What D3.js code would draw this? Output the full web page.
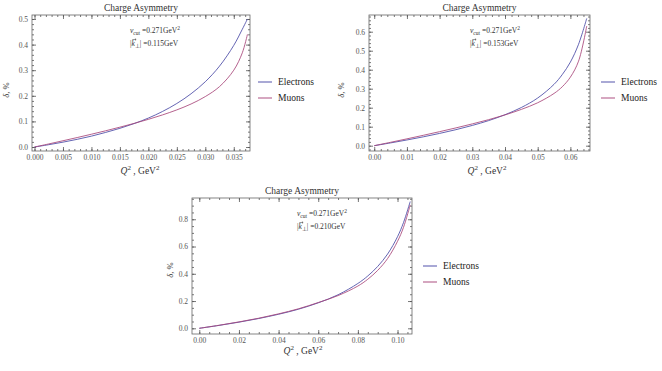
<!DOCTYPE html>
<html><head><meta charset="utf-8">
<script src="https://cdn.jsdelivr.net/npm/d3@7"></script>
<style>
body{margin:0;background:#fff}
svg{display:block}
text{font-family:"Liberation Serif","Times New Roman",serif}
</style>
</head><body>
<svg id="c" width="662" height="371"></svg>
<script>
// ---------- data ----------
const seriesNames = ["Electrons", "Muons"];
const nuCut = "0.271";

// panel 1 : |k_perp| = 0.115 GeV
const q1 = [0, 0.0025, 0.005, 0.0075, 0.01, 0.0125, 0.015, 0.0175, 0.02, 0.0225, 0.025, 0.0275, 0.03, 0.0325, 0.035, 0.0365, 0.0374];
const electrons1 = [0, 0.009, 0.019, 0.030, 0.0425, 0.057, 0.073, 0.0915, 0.113, 0.139, 0.170, 0.208, 0.255, 0.316, 0.397, 0.460, 0.500];
const muons1 = [0, 0.012, 0.0244, 0.037, 0.050, 0.0634, 0.0775, 0.0923, 0.108, 0.1255, 0.145, 0.168, 0.197, 0.236, 0.300, 0.368, 0.440];
const xTicks1 = [0, 0.005, 0.010, 0.015, 0.020, 0.025, 0.030, 0.035];
const xLabels1 = ["0.000", "0.005", "0.010", "0.015", "0.020", "0.025", "0.030", "0.035"];
const yTicks1 = [0, 0.1, 0.2, 0.3, 0.4, 0.5];
const yLabels1 = ["0.0", "0.1", "0.2", "0.3", "0.4", "0.5"];
const kPerp1 = "0.115";

// panel 2 : |k_perp| = 0.153 GeV
const q2 = [0, 0.005, 0.01, 0.015, 0.02, 0.025, 0.03, 0.035, 0.04, 0.045, 0.05, 0.055, 0.0575, 0.06, 0.0625, 0.065];
const electrons2 = [0, 0.0146, 0.030, 0.0466, 0.0646, 0.0843, 0.1066, 0.132, 0.163, 0.201, 0.251, 0.323, 0.374, 0.440, 0.534, 0.670];
const muons2 = [0, 0.0178, 0.036, 0.0546, 0.0738, 0.0937, 0.1147, 0.137, 0.162, 0.191, 0.226, 0.275, 0.310, 0.361, 0.445, 0.630];
const xTicks2 = [0, 0.01, 0.02, 0.03, 0.04, 0.05, 0.06];
const xLabels2 = ["0.00", "0.01", "0.02", "0.03", "0.04", "0.05", "0.06"];
const yTicks2 = [0, 0.1, 0.2, 0.3, 0.4, 0.5, 0.6];
const yLabels2 = ["0.0", "0.1", "0.2", "0.3", "0.4", "0.5", "0.6"];
const kPerp2 = "0.153";

// panel 3 : |k_perp| = 0.210 GeV
const q3 = [0, 0.01, 0.02, 0.03, 0.04, 0.05, 0.06, 0.07, 0.08, 0.085, 0.09, 0.095, 0.1, 0.103, 0.1064];
const electrons3 = [0, 0.0213, 0.045, 0.0719, 0.103, 0.140, 0.187, 0.246, 0.329, 0.384, 0.454, 0.545, 0.672, 0.775, 0.930];
const muons3 = [0, 0.0225, 0.047, 0.074, 0.106, 0.143, 0.189, 0.240, 0.310, 0.360, 0.425, 0.512, 0.638, 0.740, 0.905];
const xTicks3 = [0, 0.02, 0.04, 0.06, 0.08, 0.10];
const xLabels3 = ["0.00", "0.02", "0.04", "0.06", "0.08", "0.10"];
const yTicks3 = [0, 0.2, 0.4, 0.6, 0.8];
const yLabels3 = ["0.0", "0.2", "0.4", "0.6", "0.8"];
const kPerp3 = "0.210";

// ---------- layout ----------
const colors = ["#4a4aa6", "#a8467a"];
const panels = [
  {q:q1, s:[electrons1, muons1], xt:xTicks1, xl:xLabels1, yt:yTicks1, yl:yLabels1, k:kPerp1,
   xMinor:0.001, yMinor:0.02, fr:[32,15,250,151], xd:[-0.00044,0.03785], yd:[-0.0156,0.5156],
   ann:[130,33], leg:[258,82], ylab:[9,90], xlab:[140,174]},
  {q:q2, s:[electrons2, muons2], xt:xTicks2, xl:xLabels2, yt:yTicks2, yl:yLabels2, k:kPerp2,
   xMinor:0.002, yMinor:0.02, fr:[369,15,590,151], xd:[-0.0016,0.066], yd:[-0.028,0.688],
   ann:[470,33], leg:[601,82], ylab:[344,90], xlab:[487,174]},
  {q:q3, s:[electrons3, muons3], xt:xTicks3, xl:xLabels3, yt:yTicks3, yl:yLabels3, k:kPerp3,
   xMinor:0.005, yMinor:0.05, fr:[192,198,412,334], xd:[-0.00368,0.1073], yd:[-0.0418,0.956],
   ann:[297,216], leg:[423,266], ylab:[173,270], xlab:[303,354]}
];

const svg = d3.select("#c");

panels.forEach(p => {
  const [x0,y0,x1,y1] = p.fr;
  const x = d3.scaleLinear().domain(p.xd).range([x0,x1]);
  const y = d3.scaleLinear().domain(p.yd).range([y1,y0]);
  const g = svg.append("g");

  const xm = d3.range(Math.ceil(p.xd[0]/p.xMinor)*p.xMinor, p.xd[1], p.xMinor);
  const ym = d3.range(Math.ceil(p.yd[0]/p.yMinor)*p.yMinor, p.yd[1], p.yMinor);

  const addAxis = (axisGen, tx, ty, vals, size, labels) => {
    const a = axisGen.tickValues(vals).tickSizeInner(-size).tickSizeOuter(0).tickPadding(4);
    if (labels) a.tickFormat((d,i) => labels[i]); else a.tickFormat("");
    const ax = g.append("g").attr("transform", `translate(${tx},${ty})`).call(a);
    ax.select(".domain").remove();
    ax.attr("font-family", null);
    ax.selectAll("line").attr("stroke", "#555").attr("stroke-width", 0.8);
    ax.selectAll("text").attr("fill", "#555").style("font-size", "7.5px")
      .style("font-family", '"Liberation Serif",serif');
    return ax;
  };
  addAxis(d3.axisBottom(x), 0, y1, p.xt, 4, p.xl);
  addAxis(d3.axisLeft(y), x0, 0, p.yt, 4, p.yl);
  addAxis(d3.axisTop(x), 0, y0, p.xt, 4, null);
  addAxis(d3.axisRight(y), x1, 0, p.yt, 4, null);
  addAxis(d3.axisBottom(x), 0, y1, xm, 2, null);
  addAxis(d3.axisTop(x), 0, y0, xm, 2, null);
  addAxis(d3.axisLeft(y), x0, 0, ym, 2, null);
  addAxis(d3.axisRight(y), x1, 0, ym, 2, null);

  g.append("rect").attr("x", x0).attr("y", y0).attr("width", x1-x0).attr("height", y1-y0)
    .attr("fill", "none").attr("stroke", "#666").attr("stroke-width", 0.8);

  const line = d3.line().x((d,i) => x(p.q[i])).y(d => y(d)).curve(d3.curveCatmullRom.alpha(0.5));
  p.s.forEach((vals, si) => {
    g.append("path").datum(vals).attr("d", line).attr("fill", "none")
      .attr("stroke", colors[si]).attr("stroke-width", 1).attr("stroke-opacity", 0.85);
  });

  g.append("text").attr("x", (x0+x1)/2).attr("y", y0-4).attr("text-anchor", "middle")
    .style("font-size", "9.5px").attr("fill", "#333").text("Charge  Asymmetry");

  // annotation
  const [ax, ay] = p.ann;
  const t1 = g.append("text").attr("x", ax).attr("y", ay).style("font-size", "7.5px").attr("fill", "#333");
  t1.append("tspan").style("font-style", "italic").text("ν");
  t1.append("tspan").attr("dy", 2).style("font-size", "5.5px").text("cut");
  t1.append("tspan").attr("dy", -2).text(" =" + nuCut + "GeV");
  t1.append("tspan").attr("dy", -3).style("font-size", "5.5px").text("2");
  const t2 = g.append("text").attr("x", ax).attr("y", ay+13).style("font-size", "7.5px").attr("fill", "#333");
  t2.append("tspan").text("|");
  t2.append("tspan").style("font-style", "italic").text("k");
  t2.append("tspan").attr("dy", 2).style("font-size", "5.5px").text("\u22A5");
  t2.append("tspan").attr("dy", -2).text("| =" + p.k + "GeV");
  const kx = t2.node().getStartPositionOfChar(1).x;
  const ky = ay + 13 - 6.5;
  g.append("path")
    .attr("d", `M${kx+0.8},${ky}H${kx+4.6}M${kx+3.4},${ky-1}L${kx+4.6},${ky}L${kx+3.4},${ky+1}`)
    .attr("fill", "none").attr("stroke", "#333").attr("stroke-width", 0.5);

  // axis labels
  g.append("text").attr("transform", `translate(${p.ylab[0]},${p.ylab[1]}) rotate(-90)`)
    .attr("text-anchor", "middle").style("font-size", "8.5px").attr("fill", "#333")
    .html('<tspan font-style="italic">δ</tspan>, %');
  const xl = g.append("text").attr("x", p.xlab[0]).attr("y", p.xlab[1]).attr("text-anchor", "middle")
    .style("font-size", "9.5px").attr("fill", "#333");
  xl.append("tspan").style("font-style", "italic").text("Q");
  xl.append("tspan").attr("dy", -4).style("font-size", "7px").text("2");
  xl.append("tspan").attr("dy", 4).text(" ,  GeV");
  xl.append("tspan").attr("dy", -4).style("font-size", "7px").text("2");

  // legend
  const [lx, ly] = p.leg;
  seriesNames.forEach((name, i) => {
    const yy = ly + i*16;
    g.append("line").attr("x1", lx).attr("x2", lx+14).attr("y1", yy).attr("y2", yy)
      .attr("stroke", colors[i]).attr("stroke-width", 1.2).attr("stroke-opacity", 0.8);
    g.append("text").attr("x", lx+20).attr("y", yy+3).style("font-size", "9.5px")
      .attr("fill", "#222").text(name);
  });
});
</script>
</body></html>
